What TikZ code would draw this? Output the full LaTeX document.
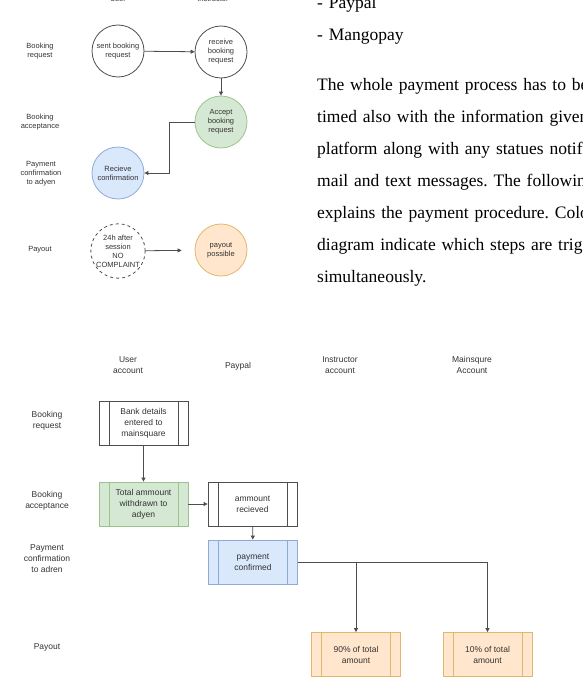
\documentclass[tikz,border=0pt]{standalone}
\usepackage{fontspec}
\setmainfont{Liberation Serif}
\setsansfont{Liberation Sans}
\usetikzlibrary{positioning}
\usetikzlibrary{arrows.meta}
\frenchspacing
\definecolor{linegray}{HTML}{4D4D4D}
\definecolor{textgray}{HTML}{333333}
\definecolor{greenfill}{HTML}{D5E8D4}
\definecolor{greenline}{HTML}{9CC38A}
\definecolor{bluefill}{HTML}{DAE8FC}
\definecolor{blueline}{HTML}{8FAAD6}
\definecolor{orangefill}{HTML}{FFE6CC}
\definecolor{orangeline}{HTML}{E3B66E}
\tikzstyle{small}=[font=\sffamily\fontsize{7.5}{9}\selectfont, text=textgray, align=center]
\tikzstyle{lane}=[font=\sffamily\fontsize{8.5}{11}\selectfont, text=textgray, align=center]
\tikzstyle{state}=[small, circle, draw=linegray, line width=0.8pt, minimum size=52pt, inner sep=0pt]
\tikzstyle{flow}=[draw=linegray, line width=0.8pt, -{Triangle[length=4pt,width=4pt]}]
\tikzstyle{para}=[font=\fontsize{17.5}{32}\selectfont, text width=420pt, align=left, inner sep=0pt, anchor=base west]
\tikzset{proc/.style={lane, draw=#1, line width=0.8pt, minimum width=89pt, minimum height=44pt, inner sep=1pt,
  path picture={\draw[#1, line width=0.8pt] ([xshift=10pt]path picture bounding box.north west) -- ([xshift=10pt]path picture bounding box.south west);
                \draw[#1, line width=0.8pt] ([xshift=-10pt]path picture bounding box.north east) -- ([xshift=-10pt]path picture bounding box.south east);}},
  proc/.default=linegray}

\begin{document}
\begin{tikzpicture}[x=1pt, y=-1pt]
\useasboundingbox (0,0) rectangle (583,680);

% first diagram
\node (hUser) [small] at (118,-1) {User};
\node (hInstr) [small] at (213,-1) {Instructor};

\node (rRequest) [small] at (40,51) {Booking\\request};
\node (rAccept) [small] at (40,122) {Booking\\acceptance};
\node (rConfirm) [small] at (41,174) {Payment\\confirmation\\to adyen};
\node (rPayout) [small] at (40,250) {Payout};

\node (sent) [state] at (118,51) {sent booking\\request};
\node (receive) [state] at (221,52) {receive\\booking\\request};
\node (accept) [state, draw=greenline, fill=greenfill] at (221,122) {Accept\\booking\\request};
\node (confirm) [state, draw=blueline, fill=bluefill] at (118,173) {Recieve\\confirmation};
\node (nocomplaint) [state, dashed] at (118,251) {24h after\\session\\NO\\COMPLAINT};
\node (possible) [state, draw=orangeline, fill=orangefill] at (221,250) {payout\\possible};

\draw [flow] (sent) -- (receive);
\draw [flow] (receive) -- (accept);
\draw [flow] (accept.west) -- ++(-25,0) |- (confirm.east);
\draw [flow, shorten >=13pt] (nocomplaint) -- (possible);

% text
\node (methods) [para] at (317,8.5) {- Paypal\\- Mangopay};
\node (process) [para] at (317,90.5) {The whole payment process has to be\\
timed also with the information given\\
platform along with any statues notifications\\
mail and text messages. The following\\
explains the payment procedure. Colours\\
diagram indicate which steps are triggered\\
simultaneously.};

% second diagram
\node (hUserAcc) [lane] at (128,365) {User\\account};
\node (hPaypal) [lane] at (238,366) {Paypal};
\node (hInstrAcc) [lane] at (340,365) {Instructor\\account};
\node (hMainAcc) [lane] at (472,365) {Mainsqure\\Account};

\node (lRequest) [lane] at (47,421) {Booking\\request};
\node (lAccept) [lane] at (47,501) {Booking\\acceptance};
\node (lConfirm) [lane] at (47,559) {Payment\\confirmation\\to adren};
\node (lPayout) [lane] at (47,647) {Payout};

\node (bank) [proc] at (143.5,423.5) {Bank details\\entered to\\mainsquare};
\node (withdrawn) [proc=greenline, fill=greenfill] at (143.5,504) {Total ammount\\withdrawn to\\adyen};
\node (received) [proc] at (252.5,504) {ammount\\recieved};
\node (confirmed) [proc=blueline, fill=bluefill] at (253,562) {payment\\confirmed};
\node (share90) [proc=orangeline, fill=orangefill] at (356,654.5) {90\% of total\\amount};
\node (share10) [proc=orangeline, fill=orangefill] at (487.5,654.5) {10\% of total\\amount};

\draw [flow] (bank) -- (withdrawn);
\draw [flow] (withdrawn) -- (received);
\draw [flow] (received) -- (confirmed);
\draw [flow] (confirmed.east) -| (share90.north);
\draw [flow] (confirmed.east) -| (share10.north);

\end{tikzpicture}
\end{document}
